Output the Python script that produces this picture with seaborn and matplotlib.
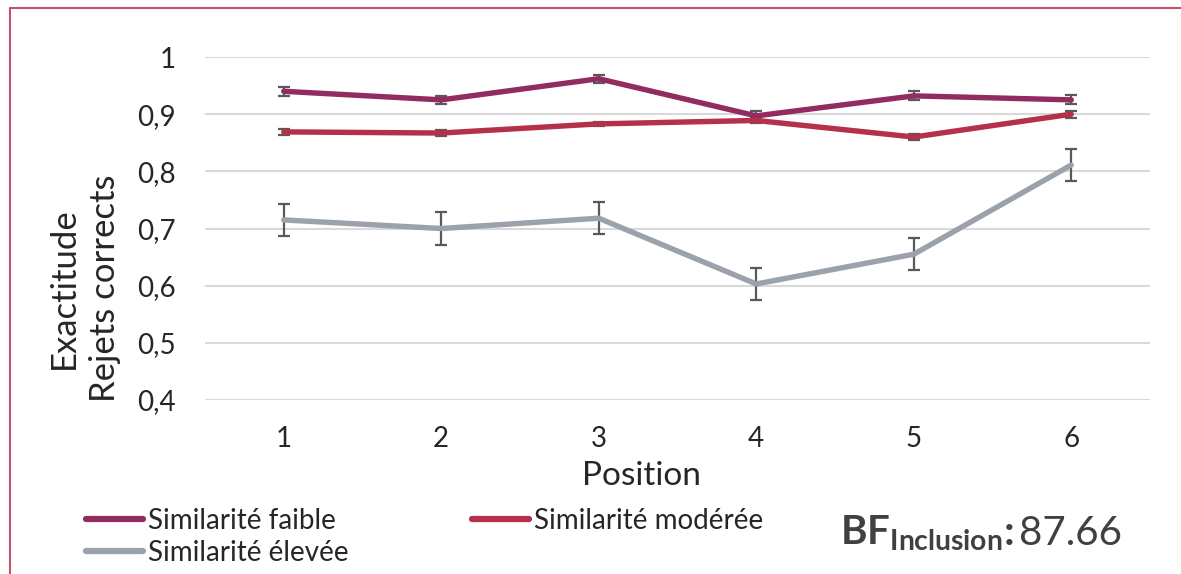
import numpy as np
import pandas as pd
import matplotlib.pyplot as plt
import seaborn as sns
from matplotlib.lines import Line2D

positions = [1, 2, 3, 4, 5, 6]
faible = [0.940, 0.925, 0.962, 0.897, 0.932, 0.925]
faible_err = [0.008, 0.007, 0.007, 0.008, 0.008, 0.008]
moderee = [0.869, 0.867, 0.883, 0.889, 0.860, 0.900]
moderee_err = [0.005, 0.005, 0.004, 0.005, 0.005, 0.006]
elevee = [0.715, 0.700, 0.718, 0.603, 0.655, 0.811]
elevee_err = [0.028, 0.028, 0.028, 0.028, 0.028, 0.028]
series_names = ["Similarité faible", "Similarité modérée", "Similarité élevée"]
y_ticks = [0.4, 0.5, 0.6, 0.7, 0.8, 0.9, 1.0]
y_tick_labels = ["0,4", "0,5", "0,6", "0,7", "0,8", "0,9", "1"]

colors = {"Similarité faible": "#922B5F",
          "Similarité modérée": "#B5304A",
          "Similarité élevée": "#9BA2AB"}

df = pd.DataFrame({
    "position": positions * 3,
    "value": faible + moderee + elevee,
    "err": faible_err + moderee_err + elevee_err,
    "serie": np.repeat(series_names, len(positions)),
})

sns.set_theme(style="white")
plt.rcParams["font.family"] = ["Lato", "DejaVu Sans"]
plt.rcParams["mathtext.fontset"] = "custom"
plt.rcParams["mathtext.bf"] = "Lato:bold"
plt.rcParams["mathtext.rm"] = "Lato"

fig = plt.figure(figsize=(11.81, 5.74), dpi=100)
ax = fig.add_axes([205 / 1181, 1 - 400 / 574, 945 / 1181, 343 / 574])

# error bars first, lines on top
for name in series_names:
    sub = df[df["serie"] == name]
    ax.errorbar(sub["position"], sub["value"], yerr=sub["err"], fmt="none",
                ecolor="#595959", elinewidth=1.6, capsize=4.5, capthick=1.6, zorder=2)

sns.lineplot(data=df, x="position", y="value", hue="serie", palette=colors,
             hue_order=series_names, linewidth=3.9, ax=ax, legend=False,
             errorbar=None, zorder=3, solid_capstyle="round")

ax.set_xlim(0.5, 6.5)
ax.set_ylim(0.4, 1.0)
ax.set_yticks(y_ticks)
ax.set_yticklabels(y_tick_labels, fontsize=20)
ax.set_xticks(positions)
ax.set_xticklabels([str(p) for p in positions], fontsize=20)
ax.tick_params(axis="both", length=0)
ax.tick_params(axis="y", pad=21)
ax.tick_params(axis="x", pad=19)
ax.grid(axis="y", color="#D9D9D9", linewidth=1.5)
ax.set_axisbelow(True)
for s in ax.spines.values():
    s.set_visible(False)
ax.set_xlabel("")
ax.set_ylabel("")

fig.text(641 / 1181, 1 - 476 / 574, "Position", fontsize=24, ha="center", va="center")
fig.text(84 / 1181, 1 - 288 / 574, "Exactitude\nRejets corrects", fontsize=25,
         rotation=90, ha="center", va="center", multialignment="center", linespacing=1.35)

handles = [Line2D([], [], color=colors[n], linewidth=4.5, solid_capstyle="round") for n in series_names]
# ncol=2 fills by column: put élevée second so it lands under faible
order = [0, 2, 1]
fig.legend([handles[i] for i in order], [series_names[i] for i in order],
           ncol=2, loc="upper left", bbox_to_anchor=(86 / 1181, 1 - 508 / 574),
           frameon=False, fontsize=20, handlelength=2.05, handletextpad=0.18,
           columnspacing=4.45, labelspacing=0.2, borderaxespad=0, borderpad=0)

# BF annotation: bold BF with subscript, bold colon, then the value
bf = fig.text(840 / 1181, 1 - 545 / 574, r"$\mathbf{BF_{Inclusion}}$", fontsize=29,
              color="#404040", ha="left", va="baseline")
fig.canvas.draw()
bb = bf.get_window_extent()
fig.text((bb.x1 + 1) / 1181, 1 - 545 / 574, ":", fontsize=30, fontweight="bold",
         color="#404040", ha="left", va="baseline")
fig.text(1122 / 1181, 1 - 545 / 574, "87.66", fontsize=29,
         color="#404040", ha="right", va="baseline")

# outer frame (top and left edges)
fig.add_artist(Line2D([10 / 1181, 10 / 1181], [0, 1 - 8 / 574], transform=fig.transFigure,
                      color="#C8506A", linewidth=1.5))
fig.add_artist(Line2D([10 / 1181, 1], [1 - 8 / 574, 1 - 8 / 574], transform=fig.transFigure,
                      color="#C8506A", linewidth=1.5))

fig.savefig("out.png", dpi=100)
